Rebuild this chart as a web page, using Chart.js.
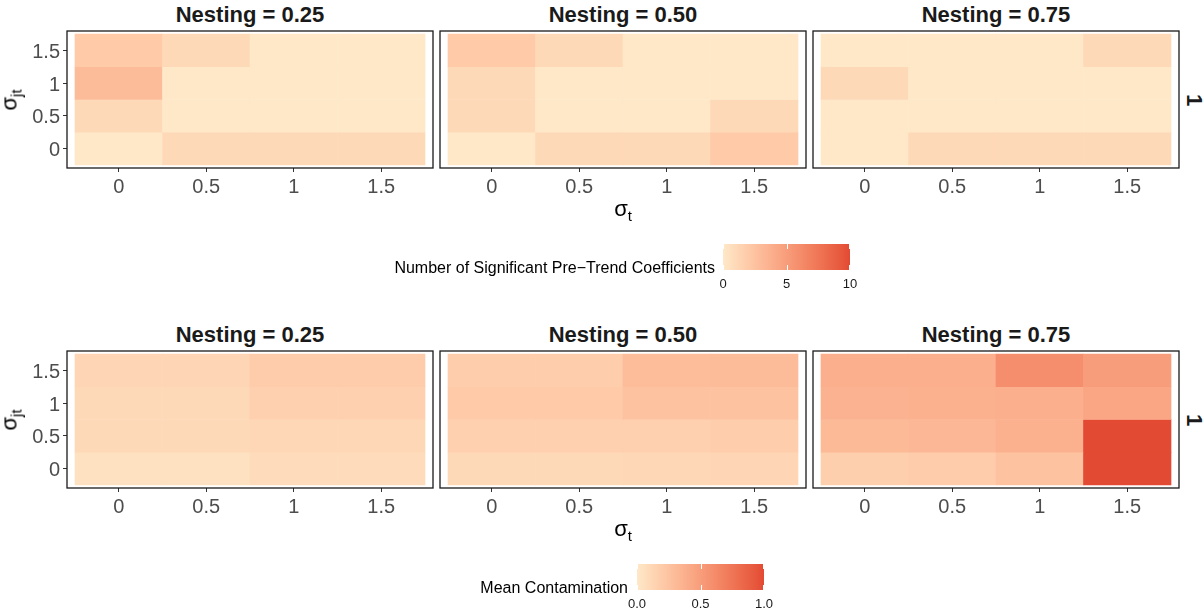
<!DOCTYPE html>
<html>
<head>
<meta charset="utf-8">
<script src="https://cdn.jsdelivr.net/npm/chart.js@4.4.1/dist/chart.umd.min.js"></script>
<style>
  body { margin: 0; background: #fff; font-family: "Liberation Sans", Arial, sans-serif; }
  #wrap { position: relative; width: 1204px; height: 612px; overflow: hidden; }
  canvas { position: absolute; }
  .strip { position: absolute; font-weight: bold; font-size: 22px; color: #1a1a1a; text-align: center; white-space: nowrap; }
  .rstrip { position: absolute; font-weight: bold; font-size: 22px; color: #1a1a1a; transform: translate(-50%, -50%) rotate(90deg); line-height: 1; }
  .atitle { position: absolute; font-size: 22px; color: #000; white-space: nowrap; line-height: 1; }
  .atitle sub { font-size: 15px; vertical-align: -5px; }
  .ltitle { position: absolute; font-size: 16px; color: #000; white-space: nowrap; text-align: right; line-height: 1; }
  .lbar { position: absolute; }
  .ltick { position: absolute; width: 1px; background: #fff; }
  .llab { position: absolute; font-size: 13px; color: #1a1a1a; transform: translate(-50%, -50%); line-height: 1; }
</style>
</head>
<body>
<div id="wrap"></div>
<script>
// ── Données ────────────────────────────────────────────────────────────────
const sigmaT  = [0, 0.5, 1, 1.5];          // axe x
const sigmaJT = [0, 0.5, 1, 1.5];          // axe y (lignes du bas vers le haut)
const nestingLabels = ['Nesting = 0.25', 'Nesting = 0.50', 'Nesting = 0.75'];
const rowLabel = '1';

// Nombre de coefficients pré-tendance significatifs (ligne = sigmaJT, colonne = sigmaT)
const sigCoef025 = [[0, 1, 1, 1], [1, 0, 0, 0], [3, 0, 0, 0], [2, 1, 0, 0]];
const sigCoef050 = [[0, 1, 1, 2], [1, 0, 0, 1], [1, 0, 0, 0], [2, 1, 0, 0]];
const sigCoef075 = [[0, 1, 1, 1], [0, 0, 0, 0], [1, 0, 0, 0], [0, 0, 0, 1]];
const sigTicks = [0, 5, 10];

// Contamination moyenne
const contam025 = [[0.05, 0.05, 0.08, 0.08], [0.10, 0.10, 0.11, 0.11], [0.10, 0.10, 0.16, 0.16], [0.12, 0.12, 0.19, 0.19]];
const contam050 = [[0.10, 0.10, 0.11, 0.12], [0.16, 0.16, 0.16, 0.18], [0.20, 0.20, 0.25, 0.25], [0.18, 0.18, 0.29, 0.30]];
const contam075 = [[0.17, 0.19, 0.25, 1.00], [0.31, 0.32, 0.37, 1.00], [0.36, 0.37, 0.38, 0.44], [0.38, 0.38, 0.60, 0.50]];
const contamTicks = [0, 0.5, 1];

// ── Palette (interpolation Lab comme ggplot) ───────────────────────────────
const LOW = '#FEE8C8', HIGH = '#E34A33';
const lin = c => { c /= 255; return c <= 0.04045 ? c / 12.92 : Math.pow((c + 0.055) / 1.055, 2.4); };
const gam = c => { const v = c <= 0.0031308 ? 12.92 * c : 1.055 * Math.pow(c, 1 / 2.4) - 0.055; return Math.round(Math.max(0, Math.min(1, v)) * 255); };
function toLab(hex) {
  const r = lin(parseInt(hex.slice(1, 3), 16)), g = lin(parseInt(hex.slice(3, 5), 16)), b = lin(parseInt(hex.slice(5, 7), 16));
  const X = (0.4124 * r + 0.3576 * g + 0.1805 * b) / 0.95047;
  const Y = 0.2126 * r + 0.7152 * g + 0.0722 * b;
  const Z = (0.0193 * r + 0.1192 * g + 0.9505 * b) / 1.08883;
  const f = t => t > 0.008856 ? Math.cbrt(t) : 7.787 * t + 16 / 116;
  const fx = f(X), fy = f(Y), fz = f(Z);
  return [116 * fy - 16, 500 * (fx - fy), 200 * (fy - fz)];
}
function fromLab(L, a, b) {
  const fy = (L + 16) / 116, fx = fy + a / 500, fz = fy - b / 200;
  const inv = t => t * t * t > 0.008856 ? t * t * t : (t - 16 / 116) / 7.787;
  const X = 0.95047 * inv(fx), Y = inv(fy), Z = 1.08883 * inv(fz);
  const r = 3.2406 * X - 1.5372 * Y - 0.4986 * Z;
  const g = -0.9689 * X + 1.8758 * Y + 0.0415 * Z;
  const bb = 0.0557 * X - 0.2040 * Y + 1.0570 * Z;
  return `rgb(${gam(r)},${gam(g)},${gam(bb)})`;
}
const labLo = toLab(LOW), labHi = toLab(HIGH);
function ramp(t) {
  t = Math.max(0, Math.min(1, t));
  return fromLab(labLo[0] + (labHi[0] - labLo[0]) * t, labLo[1] + (labHi[1] - labLo[1]) * t, labLo[2] + (labHi[2] - labLo[2]) * t);
}

// ── Mise en page ───────────────────────────────────────────────────────────
const wrap = document.getElementById('wrap');
const PANEL_W = 366, PANEL_H = 137, PANEL_X = [67, 440, 813];
const EXP = 0.0457;    // expansion des axes (unités)
const FONT = '"Liberation Sans", Arial, sans-serif';
Chart.defaults.font.family = FONT;

const framePlugin = {
  id: 'frame',
  afterDatasetsDraw(chart) {
    const a = chart.chartArea, ctx = chart.ctx;
    ctx.save();
    ctx.strokeStyle = '#1a1a1a';
    ctx.lineWidth = 1.3;
    ctx.strokeRect(a.left, a.top, a.right - a.left, a.bottom - a.top);
    ctx.restore();
  }
};

function addDiv(cls, css, html) {
  const d = document.createElement('div');
  d.className = cls;
  Object.assign(d.style, css);
  d.innerHTML = html;
  wrap.appendChild(d);
  return d;
}

// pas de marge automatique autour de la zone du graphique
const noPad = s => { s.paddingTop = 0; s.paddingBottom = 0; s.paddingLeft = 0; s.paddingRight = 0; };

function panel(values, vmax, k, top) {
  const first = k === 0;
  const cv = document.createElement('canvas');
  const left = first ? 0 : PANEL_X[k] - 2;
  const w = first ? PANEL_X[0] + PANEL_W + 2 : PANEL_W + 4;
  const h = 2 + PANEL_H + 38;
  cv.width = w; cv.height = h;
  cv.style.left = left + 'px'; cv.style.top = (top - 2) + 'px';
  wrap.appendChild(cv);

  const half = (sigmaJT[1] - sigmaJT[0]) / 2;
  const data = [], colors = [];
  sigmaJT.forEach((yv, i) => sigmaT.forEach((xv, j) => {
    data.push({ x: xv, y: [yv - half, yv + half] });
    colors.push(ramp(values[i][j] / vmax));
  }));

  const tickFont = { size: 20 };
  const gridOpt = { display: true, offset: false, drawOnChartArea: false, drawTicks: true, tickLength: 4, color: '#333', lineWidth: 1 };

  new Chart(cv, {
    type: 'bar',
    data: { datasets: [{ data, backgroundColor: colors, borderWidth: 0, categoryPercentage: 1, barPercentage: 1 }] },
    options: {
      responsive: false, animation: false, devicePixelRatio: 1,
      layout: { padding: { left: first ? 0 : 2, right: 2, top: 2, bottom: 0 } },
      plugins: { legend: { display: false }, tooltip: { enabled: false } },
      scales: {
        x: {
          type: 'linear', offset: false, min: sigmaT[0] - half - EXP, max: sigmaT[sigmaT.length - 1] + half + EXP,
          afterBuildTicks: s => { s.ticks = sigmaT.map(v => ({ value: v })); },
          afterFit: s => { s.height = 38; noPad(s); },
          grid: gridOpt, border: { display: false },
          ticks: { font: tickFont, color: '#4D4D4D', padding: 3, maxRotation: 0, autoSkip: false, callback: v => String(v) }
        },
        y: {
          type: 'linear', display: first, min: sigmaJT[0] - half - EXP, max: sigmaJT[sigmaJT.length - 1] + half + EXP,
          afterBuildTicks: s => { s.ticks = sigmaJT.map(v => ({ value: v })); },
          afterFit: s => { s.width = first ? PANEL_X[0] : 0; noPad(s); },
          grid: gridOpt, border: { display: false },
          ticks: { font: tickFont, color: '#4D4D4D', padding: 3, labelOffset: 2, autoSkip: false, callback: v => String(v) }
        }
      }
    },
    plugins: [framePlugin]
  });

  addDiv('strip', { left: PANEL_X[k] + 'px', top: (top - 31) + 'px', width: PANEL_W + 'px', lineHeight: '29px' }, nestingLabels[k]);
}

function row(sets, vmax, top) {
  sets.forEach((vals, k) => panel(vals, vmax, k, top));
  // étiquette de facette à droite
  addDiv('rstrip', { left: '1194px', top: (top + PANEL_H / 2) + 'px' }, rowLabel);
  // titres des axes
  addDiv('atitle', { left: (PANEL_X[1] + PANEL_W / 2) + 'px', top: (top + PANEL_H + 30) + 'px', transform: 'translate(-50%, 0)' }, 'σ<sub>t</sub>');
  addDiv('atitle', { left: '11px', top: (top + PANEL_H / 2) + 'px', transform: 'translate(-50%, -50%) rotate(-90deg)' }, 'σ<sub>jt</sub>');
}

function legend(title, ticks, fmt, titleRight, barLeft, barTop) {
  const BW = 127, BH = 26;
  const vmax = ticks[ticks.length - 1];
  const stops = [];
  for (let i = 0; i <= 20; i++) stops.push(`${ramp(i / 20)} ${(i * 5)}%`);
  addDiv('lbar', { left: barLeft + 'px', top: barTop + 'px', width: BW + 'px', height: BH + 'px', background: `linear-gradient(to right, ${stops.join(', ')})` }, '');
  ticks.forEach(t => {
    const x = Math.min(barLeft + BW - 1, barLeft + (t / vmax) * BW);
    addDiv('ltick', { left: x + 'px', top: barTop + 'px', height: '5px' }, '');
    addDiv('ltick', { left: x + 'px', top: (barTop + BH - 5) + 'px', height: '5px' }, '');
    addDiv('llab', { left: (barLeft + (t / vmax) * BW) + 'px', top: (barTop + BH + 13) + 'px' }, fmt(t));
  });
  addDiv('ltitle', { top: (barTop + BH / 2 + 11) + 'px', right: (1204 - titleRight) + 'px', transform: 'translate(0, -50%)' }, title);
}

row([sigCoef025, sigCoef050, sigCoef075], 10, 31);
row([contam025, contam050, contam075], 1, 351);

legend('Number of Significant Pre\u2212Trend Coefficients', sigTicks, t => String(t), 715, 723, 244);
legend('Mean Contamination', contamTicks, t => t.toFixed(1), 628, 637, 564);
</script>
</body>
</html>
